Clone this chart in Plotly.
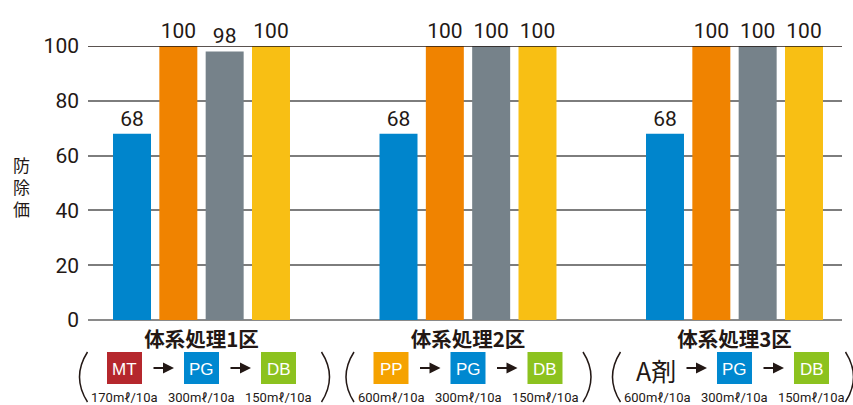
import plotly.graph_objects as go

# ---------------- data ----------------
groups = ["体系処理1区", "体系処理2区", "体系処理3区"]
series_names = ["区A", "区B", "区C", "区D"]
series_values = [
    [68, 68, 68],
    [100, 100, 100],
    [98, 100, 100],
    [100, 100, 100],
]
y_ticks = [0, 20, 40, 60, 80, 100]
y_title = "防除価"

steps = [
    ["MT", "PG", "DB"],
    ["PP", "PG", "DB"],
    ["A剤", "PG", "DB"],
]
doses = [
    ["170mℓ/10a", "300mℓ/10a", "150mℓ/10a"],
    ["600mℓ/10a", "300mℓ/10a", "150mℓ/10a"],
    ["600mℓ/10a", "300mℓ/10a", "150mℓ/10a"],
]

# ---------------- style ----------------
bar_colors = ["#0085cc", "#f08300", "#76828a", "#f8bf14"]
box_colors = {"MT": "#b5272d", "PP": "#f5a200", "PG": "#0088d0", "DB": "#8cc21f"}
INK = "#231815"
NUM_FONT = "Roboto, Liberation Sans, sans-serif"
JP_FONT = "Noto Sans CJK JP, sans-serif"
BOX_FONT = "Liberation Sans, Arial, sans-serif"

W, H = 853, 405
ML, MR, MT_, MB = 88, 11, 46, 85
PLOT_W = W - ML - MR
PLOT_H = H - MT_ - MB
X_RANGE = [-0.4259, 2.4034]
SPAN = X_RANGE[1] - X_RANGE[0]
UNIT = PLOT_W / SPAN  # px per group


def xd(g, off_px):
    return g + off_px / UNIT


def xp(g, off_px):
    return (xd(g, off_px) - X_RANGE[0]) / SPAN


def yp(py):
    return (H - MB - py) / PLOT_H


fig = go.Figure()
for name, vals, col in zip(series_names, series_values, bar_colors):
    fig.add_trace(go.Bar(
        x=list(range(len(groups))), y=vals, name=name,
        marker=dict(color=col, line=dict(width=0)),
        text=vals, texttemplate="%{text}", textposition="outside",
        textfont=dict(family=NUM_FONT, size=21, color=INK),
        cliponaxis=False,
    ))

shapes = []
annotations = []

# dark top gridline at 100
shapes.append(dict(type="line", xref="paper", yref="y", x0=0, x1=1, y0=100, y1=100,
                   line=dict(color=INK, width=1.5), layer="above"))

BOX_OFF = [-77, 0, 77]
ARROWS = [(-49.5, -27.5), (27.5, 49.5)]
PAREN_L = [-114, -114, -114]
PAREN_R = [120, 115, 111]
BOX_HALF_W = 17.5
BOX_TOP, BOX_BOT = 352, 384
for g in range(len(groups)):
    for k, (s, d) in enumerate(zip(steps[g], doses[g])):
        cx = xd(g, BOX_OFF[k])
        if s in box_colors:
            shapes.append(dict(type="rect", xref="paper", yref="paper",
                               x0=xp(g, BOX_OFF[k] - BOX_HALF_W), x1=xp(g, BOX_OFF[k] + BOX_HALF_W),
                               y0=yp(BOX_BOT), y1=yp(BOX_TOP),
                               fillcolor=box_colors[s], line=dict(width=0)))
            annotations.append(dict(x=cx, y=yp((BOX_TOP + BOX_BOT) / 2 + 1), xref="x", yref="paper",
                                    xanchor="center", yanchor="middle",
                                    text=s, showarrow=False,
                                    font=dict(family=BOX_FONT, size=17, color="white")))
        else:
            annotations.append(dict(x=xd(g, BOX_OFF[k] - 2), y=yp(370), xref="x", yref="paper",
                                    xanchor="center", yanchor="middle",
                                    text=s, showarrow=False,
                                    font=dict(family=JP_FONT, size=25, color=INK)))
        annotations.append(dict(x=cx, y=yp(397.5), xref="x", yref="paper",
                                xanchor="center", yanchor="middle",
                                text=d, showarrow=False,
                                font=dict(family=NUM_FONT, size=13, color=INK)))
    for a0, a1 in ARROWS:
        annotations.append(dict(x=xd(g, a1), y=yp(368), ax=-(a1 - a0), ay=0,
                                xref="x", yref="paper", axref="pixel", ayref="pixel",
                                text="", showarrow=True, arrowhead=2, arrowsize=1.1,
                                arrowwidth=2, arrowcolor=INK))
    # parentheses
    t, b, m = yp(352), yp(402), yp(377)
    xl = xp(g, PAREN_L[g]); xlc = xp(g, PAREN_L[g] - 16)
    xr = xp(g, PAREN_R[g]); xrc = xp(g, PAREN_R[g] + 16)
    shapes.append(dict(type="path", xref="paper", yref="paper",
                       path=f"M {xl},{t} Q {xlc},{m} {xl},{b}",
                       line=dict(color=INK, width=1.5)))
    shapes.append(dict(type="path", xref="paper", yref="paper",
                       path=f"M {xr},{t} Q {xrc},{m} {xr},{b}",
                       line=dict(color=INK, width=1.5)))

# vertical y-axis title (stacked characters)
annotations.append(dict(x=(21 - ML) / PLOT_W, y=yp(186), xref="paper", yref="paper",
                        xanchor="center", yanchor="middle",
                        text="<br>".join(y_title), showarrow=False,
                        font=dict(family=JP_FONT, size=17, color=INK)))

fig.update_layout(
    width=W, height=H,
    margin=dict(l=ML, r=MR, t=MT_, b=MB, pad=0, autoexpand=False),
    paper_bgcolor="white", plot_bgcolor="white",
    barmode="group", bargap=0.3046, bargroupgap=0.18,
    showlegend=False,
    xaxis=dict(range=X_RANGE, tickvals=list(range(len(groups))),
               ticktext=[f"<b>{g}</b>" for g in groups],
               tickfont=dict(family=JP_FONT, size=20.5, color=INK),
               showgrid=False, zeroline=False, showline=False, ticks="",
               ticklabelstandoff=5, fixedrange=True, automargin=False),
    yaxis=dict(range=[0, 100], tickvals=y_ticks,
               tickfont=dict(family=NUM_FONT, size=21, color=INK),
               showgrid=True, gridcolor="#7d7d7d", gridwidth=1.5,
               zeroline=True, zerolinecolor="#8a8a8a", zerolinewidth=1.5,
               showline=False, ticks="", ticklabelstandoff=8, fixedrange=True,
               automargin=False),
    shapes=shapes, annotations=annotations,
)

fig.write_html("out.html", config={"displayModeBar": False},
               post_script="document.body.style.margin='0';")
